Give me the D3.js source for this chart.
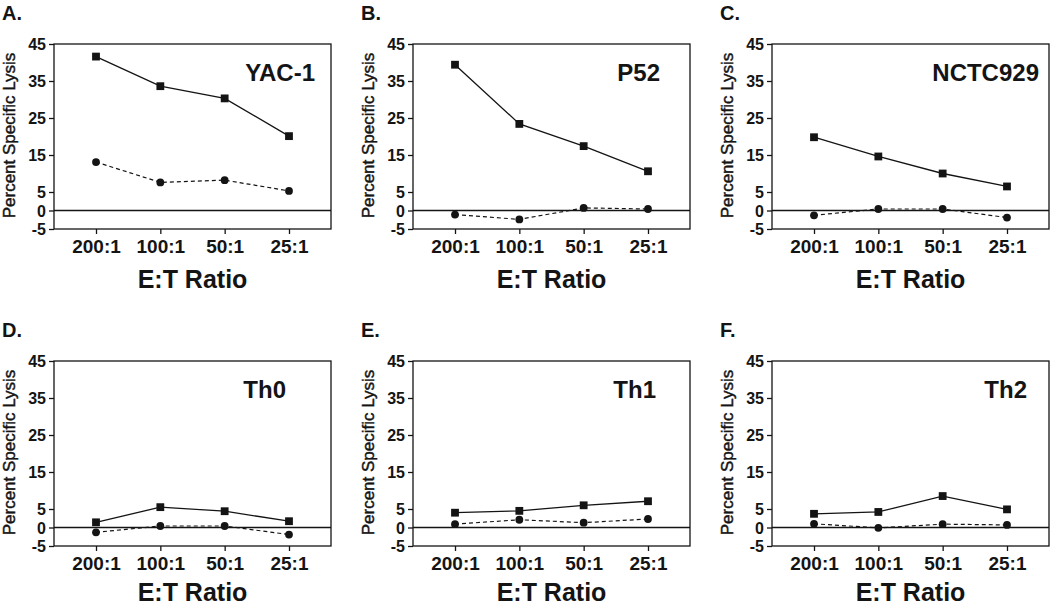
<!DOCTYPE html>
<html>
<head>
<meta charset="utf-8">
<script src="https://cdn.jsdelivr.net/npm/d3@7"></script>
<style>
  html, body { margin: 0; padding: 0; background: #fff; }
  svg { display: block; font-family: "Liberation Sans", Arial, sans-serif; }
</style>
</head>
<body>
<svg id="chart" width="1050" height="605"></svg>
<script>
// ---- data ----
const ratios = ["200:1", "100:1", "50:1", "25:1"];
const yTicks = [45, 35, 25, 15, 5, 0, -5];
const panelLetters = ["A.", "B.", "C.", "D.", "E.", "F."];
const panelTitles = ["YAC-1", "P52", "NCTC929", "Th0", "Th1", "Th2"];
const squareYAC1 = [41.6, 33.6, 30.3, 20.1];
const circleYAC1 = [13.1, 7.6, 8.2, 5.3];
const squareP52 = [39.4, 23.4, 17.4, 10.6];
const circleP52 = [-1.1, -2.4, 0.7, 0.4];
const squareNCTC = [19.8, 14.6, 10.0, 6.5];
const circleNCTC = [-1.3, 0.4, 0.4, -1.9];
const squareTh0 = [1.4, 5.5, 4.4, 1.7];
const circleTh0 = [-1.3, 0.4, 0.4, -1.9];
const squareTh1 = [4.0, 4.5, 6.0, 7.1];
const circleTh1 = [0.9, 2.1, 1.3, 2.3];
const squareTh2 = [3.7, 4.2, 8.5, 4.9];
const circleTh2 = [1.0, -0.1, 0.9, 0.7];
const squareSeries = [squareYAC1, squareP52, squareNCTC, squareTh0, squareTh1, squareTh2];
const circleSeries = [circleYAC1, circleP52, circleNCTC, circleTh0, circleTh1, circleTh2];

// ---- layout ----
const colLeft = [54, 413, 772];
const rowTop = [44, 361];
const plotW = 277, plotH = 185;
const titleRightPad = [16, 30, 10, 45, 34, 22];
const xTitleOffset = [59, 55];
const ink = "#141414";

const svg = d3.select("#chart");

panelTitles.forEach((title, i) => {
  const col = i % 3, row = Math.floor(i / 3);
  const g = svg.append("g").attr("transform", `translate(${colLeft[col]},${rowTop[row]})`);

  const x = d3.scalePoint().domain(ratios).range([0, plotW]).padding(0.653);
  const y = d3.scaleLinear().domain([-5, 45]).range([plotH, 0]);

  // y axis
  const ya = g.append("g").call(d3.axisLeft(y).tickValues(yTicks).tickSize(5).tickPadding(3).tickFormat(d => String(d)));
  ya.select(".domain").remove();
  ya.selectAll("line").attr("stroke", ink).attr("stroke-width", 1.3);
  ya.selectAll("text").attr("fill", ink).style("font-size", "16px").style("font-weight", "bold").attr("dy", "0.36em");

  // x axis
  const xa = g.append("g").attr("transform", `translate(0,${plotH})`)
    .call(d3.axisBottom(x).tickSize(5).tickPadding(6));
  xa.select(".domain").remove();
  xa.selectAll("line").attr("stroke", ink).attr("stroke-width", 1.3);
  xa.selectAll("text").attr("fill", ink).style("font-size", "19px").style("font-weight", "bold");

  // frame
  g.append("rect").attr("x", 0).attr("y", 0).attr("width", plotW).attr("height", plotH)
    .attr("fill", "none").attr("stroke", ink).attr("stroke-width", 1.3);
  // zero line
  g.append("line").attr("x1", 0).attr("x2", plotW).attr("y1", y(0)).attr("y2", y(0))
    .attr("stroke", ink).attr("stroke-width", 1.3);

  const line = d3.line().x((d, k) => x(ratios[k])).y(d => y(d));

  // dashed circle series
  g.append("path").datum(circleSeries[i]).attr("d", line).attr("fill", "none")
    .attr("stroke", ink).attr("stroke-width", 1.2).attr("stroke-dasharray", "4,3");
  g.selectAll("circle.c").data(circleSeries[i]).enter().append("circle")
    .attr("cx", (d, k) => x(ratios[k])).attr("cy", d => y(d)).attr("r", 3.9).attr("fill", ink);

  // solid square series
  g.append("path").datum(squareSeries[i]).attr("d", line).attr("fill", "none")
    .attr("stroke", ink).attr("stroke-width", 1.3);
  g.selectAll("rect.s").data(squareSeries[i]).enter().append("rect")
    .attr("x", (d, k) => x(ratios[k]) - 3.9).attr("y", d => y(d) - 3.9)
    .attr("width", 7.8).attr("height", 7.8).attr("fill", ink);

  // panel title
  g.append("text").attr("x", plotW - titleRightPad[i]).attr("y", 37).attr("text-anchor", "end")
    .attr("fill", ink).style("font-size", "24px").style("font-weight", "bold").text(title);

  // panel letter
  g.append("text").attr("x", -52).attr("y", -24).attr("fill", ink)
    .style("font-size", "20px").style("font-weight", "bold").text(panelLetters[i]);

  // y axis title
  g.append("text").attr("transform", `translate(-39.5,${plotH / 2 - 1}) rotate(-90)`)
    .attr("text-anchor", "middle").attr("fill", ink).attr("stroke", ink).attr("stroke-width", 0.45)
    .style("font-size", "17px").text("Percent Specific Lysis");

  // x axis title
  g.append("text").attr("x", plotW / 2).attr("y", plotH + xTitleOffset[row]).attr("text-anchor", "middle")
    .attr("fill", ink).style("font-size", "25px").style("font-weight", "bold").text("E:T Ratio");
});
</script>
</body>
</html>
